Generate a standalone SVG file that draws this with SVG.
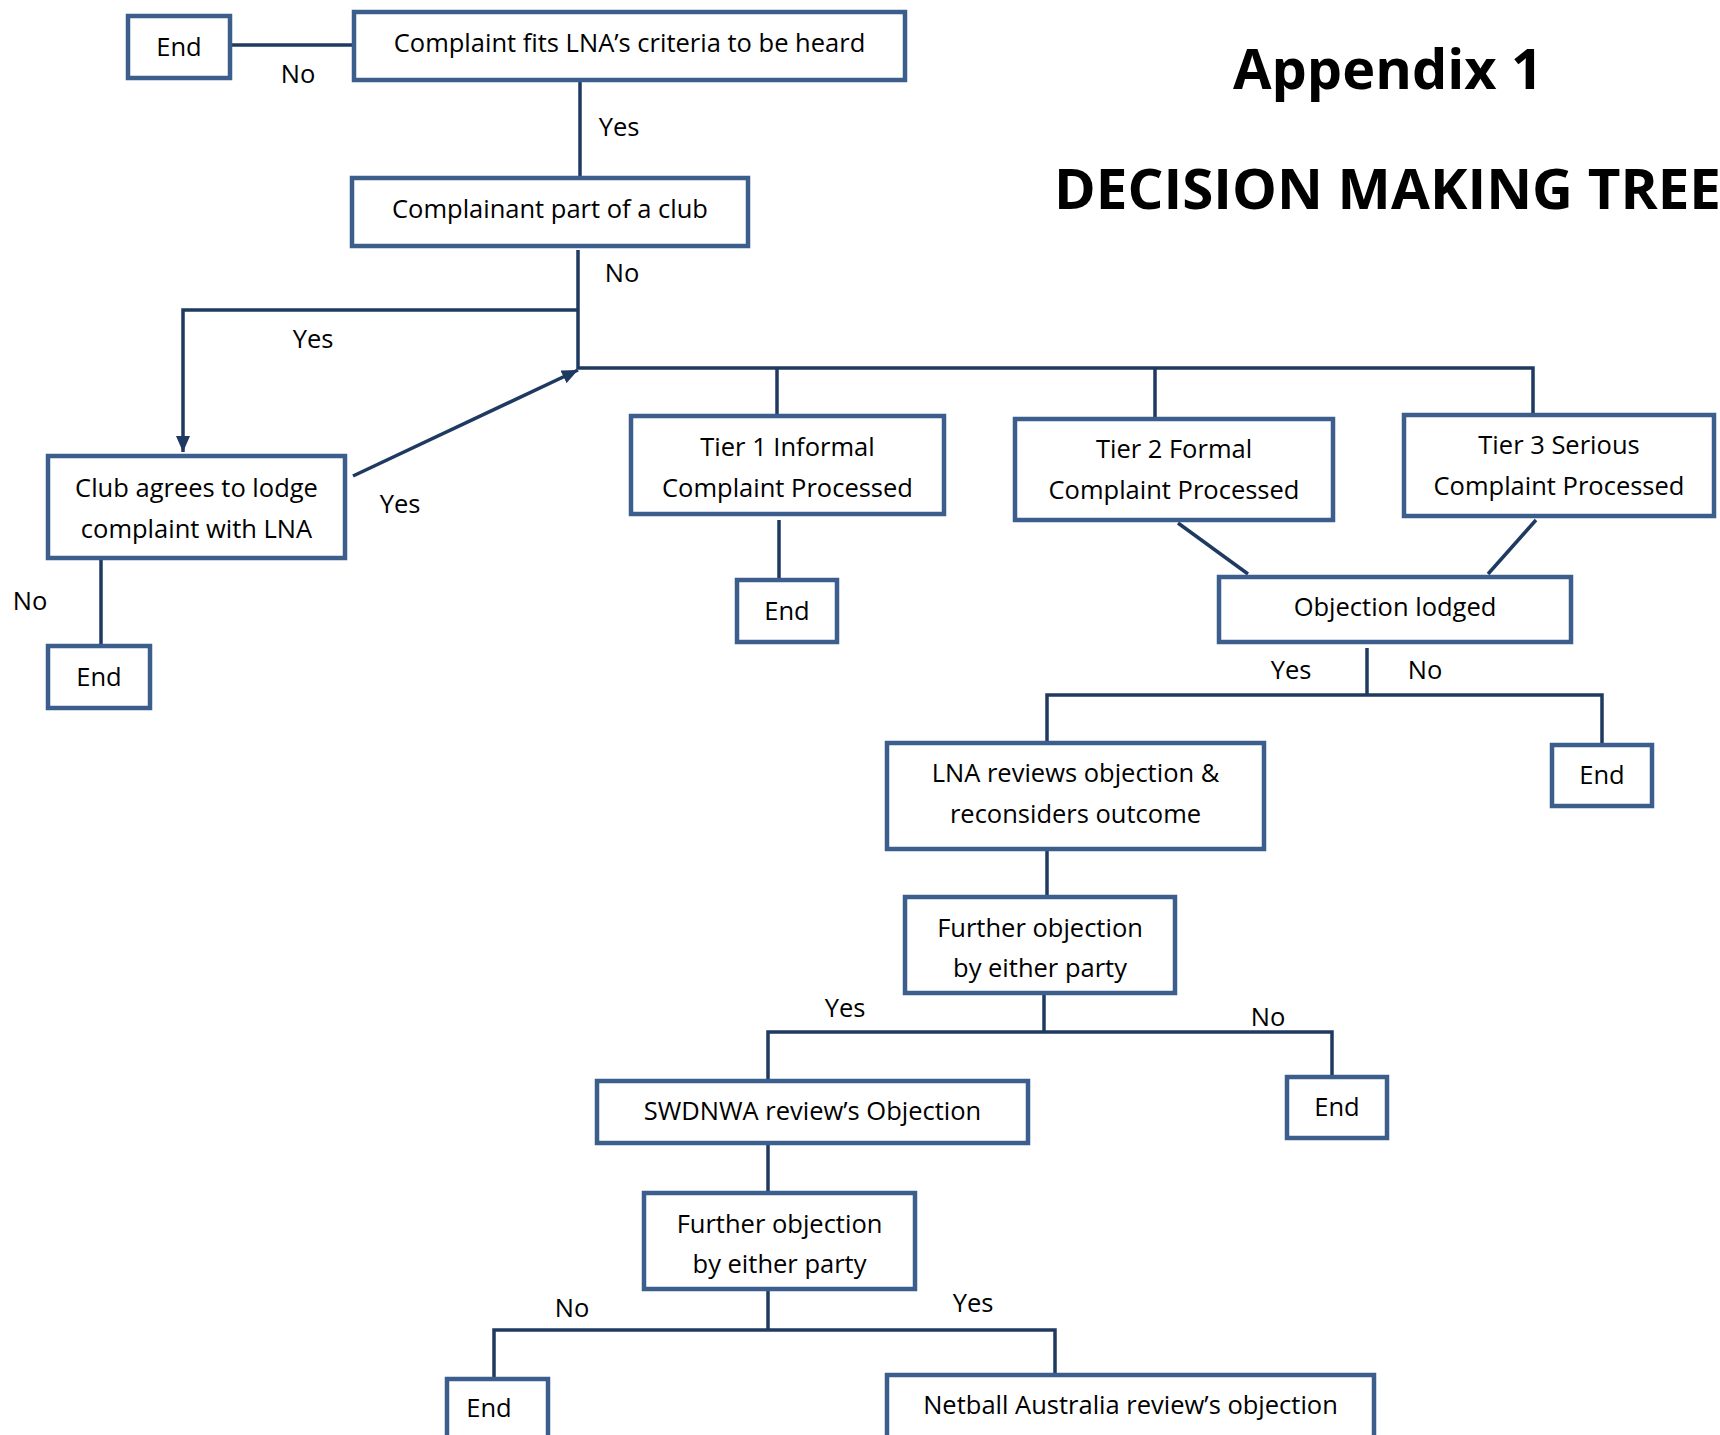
<svg xmlns="http://www.w3.org/2000/svg" width="1720" height="1435" viewBox="0 0 1720 1435">
<style>
.box{fill:#fff;stroke:#3B5E8C;stroke-width:4.5}
.t{font-family:"Open Sans","Liberation Sans",sans-serif;font-size:25.5px;fill:#000;text-anchor:middle}
.lbl{font-family:"Open Sans","Liberation Sans",sans-serif;font-size:25.5px;fill:#000;text-anchor:middle}
.title{font-family:"Open Sans","Liberation Sans",sans-serif;font-weight:bold;fill:#000}
.c{fill:none;stroke:#1F3A60;stroke-width:3.5}
</style>
<defs>
<marker id="arr" markerUnits="userSpaceOnUse" markerWidth="18" markerHeight="16" refX="16" refY="7" orient="auto">
<path d="M0,0 L16,7 L0,14 z" fill="#1F3A60"/>
</marker>
</defs>
<rect width="1720" height="1435" fill="#fff"/>
<text class="title" x="1388" y="89" font-size="56" text-anchor="middle" textLength="310" lengthAdjust="spacingAndGlyphs">Appendix 1</text>
<text class="title" x="1054" y="209" font-size="56" textLength="667" lengthAdjust="spacingAndGlyphs">DECISION MAKING TREE</text>
<g id="connectors">
<line class="c" x1="232" y1="45" x2="352" y2="45"/>
<line class="c" x1="580" y1="82" x2="580" y2="176"/>
<line class="c" x1="578" y1="250" x2="578" y2="369"/>
<polyline class="c" points="578,310 183,310 183,452" marker-end="url(#arr)"/>
<line class="c" x1="353" y1="476" x2="578" y2="370" marker-end="url(#arr)"/>
<polyline class="c" points="578,368 1533,368 1533,413"/>
<line class="c" x1="777" y1="368" x2="777" y2="414"/>
<line class="c" x1="1155" y1="368" x2="1155" y2="417"/>
<line class="c" x1="779" y1="520" x2="779" y2="578"/>
<line class="c" x1="101" y1="560" x2="101" y2="644"/>
<line class="c" x1="1178" y1="523" x2="1248" y2="574"/>
<line class="c" x1="1536" y1="520" x2="1488" y2="574"/>
<line class="c" x1="1367" y1="648" x2="1367" y2="695"/>
<polyline class="c" points="1047,741 1047,695 1602,695 1602,743"/>
<line class="c" x1="1047" y1="851" x2="1047" y2="895"/>
<line class="c" x1="1044" y1="995" x2="1044" y2="1032"/>
<polyline class="c" points="768,1079 768,1032 1332,1032 1332,1075"/>
<line class="c" x1="768" y1="1145" x2="768" y2="1191"/>
<line class="c" x1="768" y1="1291" x2="768" y2="1330"/>
<polyline class="c" points="494,1377 494,1330 1055,1330 1055,1373"/>
</g>
<g id="labels">
<text class="lbl" x="298" y="83">No</text>
<text class="lbl" x="619" y="136">Yes</text>
<text class="lbl" x="622" y="282">No</text>
<text class="lbl" x="313" y="348">Yes</text>
<text class="lbl" x="400" y="513">Yes</text>
<text class="lbl" x="30" y="610">No</text>
<text class="lbl" x="1291" y="679">Yes</text>
<text class="lbl" x="1425" y="679">No</text>
<text class="lbl" x="845" y="1017">Yes</text>
<text class="lbl" x="1268" y="1026">No</text>
<text class="lbl" x="572" y="1317">No</text>
<text class="lbl" x="973" y="1312">Yes</text>
</g>
<g id="end1"><rect class="box" x="128" y="16" width="102" height="62"/><text class="t" x="179" y="56">End</text></g>
<g id="criteria"><rect class="box" x="354" y="12" width="551" height="68"/><text class="t" x="629.5" y="52">Complaint fits LNA’s criteria to be heard</text></g>
<g id="club-member"><rect class="box" x="352" y="178" width="396" height="68"/><text class="t" x="550" y="218">Complainant part of a club</text></g>
<g id="club-agrees"><rect class="box" x="48" y="456" width="297" height="102"/><text class="t" x="196.5" y="497">Club agrees to lodge</text><text class="t" x="196.5" y="538">complaint with LNA</text></g>
<g id="end2"><rect class="box" x="48" y="646" width="102" height="62"/><text class="t" x="99" y="686">End</text></g>
<g id="tier1"><rect class="box" x="631" y="416" width="313" height="98"/><text class="t" x="787.5" y="456">Tier 1 Informal</text><text class="t" x="787.5" y="497">Complaint Processed</text></g>
<g id="end3"><rect class="box" x="737" y="580" width="100" height="62"/><text class="t" x="787" y="620">End</text></g>
<g id="tier2"><rect class="box" x="1015" y="419" width="318" height="101"/><text class="t" x="1174" y="458">Tier 2 Formal</text><text class="t" x="1174" y="499">Complaint Processed</text></g>
<g id="tier3"><rect class="box" x="1404" y="415" width="310" height="101"/><text class="t" x="1559" y="454">Tier 3 Serious</text><text class="t" x="1559" y="495">Complaint Processed</text></g>
<g id="objection"><rect class="box" x="1219" y="577" width="352" height="65"/><text class="t" x="1395" y="616">Objection lodged</text></g>
<g id="lna-review"><rect class="box" x="887" y="743" width="377" height="106"/><text class="t" x="1075.5" y="782">LNA reviews objection &amp;</text><text class="t" x="1075.5" y="823">reconsiders outcome</text></g>
<g id="end4"><rect class="box" x="1552" y="745" width="100" height="61"/><text class="t" x="1602" y="784">End</text></g>
<g id="further1"><rect class="box" x="905" y="897" width="270" height="96"/><text class="t" x="1040" y="937">Further objection</text><text class="t" x="1040" y="977">by either party</text></g>
<g id="swdnwa"><rect class="box" x="597" y="1081" width="431" height="62"/><text class="t" x="812.5" y="1120">SWDNWA review’s Objection</text></g>
<g id="end5"><rect class="box" x="1287" y="1077" width="100" height="61"/><text class="t" x="1337" y="1116">End</text></g>
<g id="further2"><rect class="box" x="644" y="1193" width="271" height="96"/><text class="t" x="779.5" y="1233">Further objection</text><text class="t" x="779.5" y="1273">by either party</text></g>
<g id="end6"><rect class="box" x="447" y="1379" width="101" height="80"/><text class="t" x="489" y="1417">End</text></g>
<g id="netball"><rect class="box" x="887" y="1375" width="487" height="80"/><text class="t" x="1130.5" y="1414">Netball Australia review’s objection</text></g>
</svg>
